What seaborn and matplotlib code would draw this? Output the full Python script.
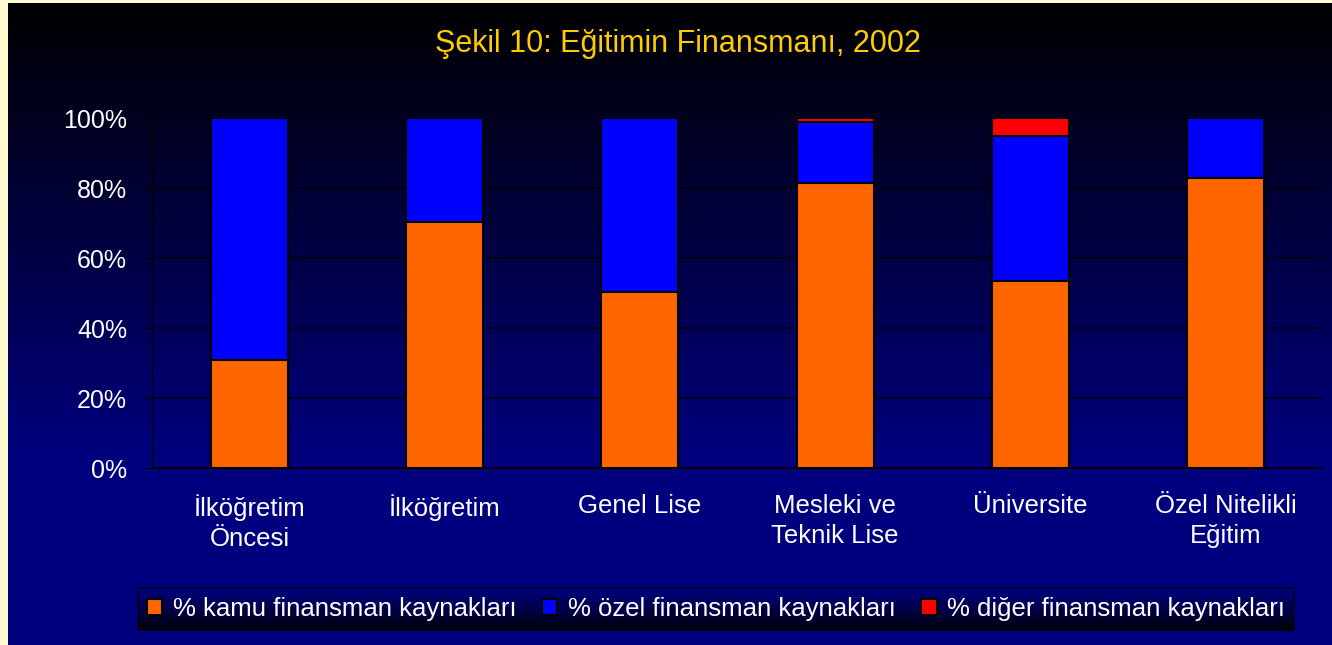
import numpy as np
import pandas as pd
import seaborn as sns
import matplotlib.pyplot as plt
from matplotlib.patches import Patch

# Veri (2002, yüzde)
categories = ['İlköğretim\nÖncesi', 'İlköğretim', 'Genel Lise',
              'Mesleki ve\nTeknik Lise', 'Üniversite', 'Özel Nitelikli\nEğitim']
kamu = [31.0, 70.3, 50.3, 81.5, 53.5, 82.9]
ozel = [69.0, 29.7, 49.7, 17.5, 41.5, 17.1]
diger = [0.0, 0.0, 0.0, 1.0, 5.0, 0.0]
series_names = ['% kamu finansman kaynakları', '% özel finansman kaynakları',
                '% diğer finansman kaynakları']
colors = ['#FF6600', '#0000FF', '#FF0000']

sns.set_style('white')
plt.rcParams['font.family'] = ['Liberation Sans', 'DejaVu Sans']

df = pd.DataFrame({'kategori': categories, 'kamu': kamu, 'ozel': ozel, 'diger': diger})
df['c1'] = df['kamu']
df['c2'] = df['kamu'] + df['ozel']
df['c3'] = df['c2'] + df['diger']

fig = plt.figure(figsize=(13.32, 6.45), dpi=100, facecolor='#FFFACD')

# arka plan gradyanı
bg = fig.add_axes([8 / 1332, 0, 1 - 8 / 1332, 1 - 3 / 645], zorder=-10)
yy = np.linspace(0, 1, 400)
grad = np.clip(yy / 0.72, 0, 1)
img = np.zeros((400, 1, 3))
img[:, 0, 2] = grad * 0.5
bg.imshow(img, aspect='auto', extent=[0, 1, 1, 0])
bg.axis('off')

ax = fig.add_axes([152 / 1332, 1 - 468 / 645, 1171 / 1332, 350 / 645])
ax.patch.set_alpha(0)

w = 0.395
for col, c in zip(['c3', 'c2', 'c1'], [colors[2], colors[1], colors[0]]):
    sns.barplot(data=df, x='kategori', y=col, color=c, width=w, ax=ax,
                edgecolor='black', linewidth=1.5, saturation=1, zorder=3)

ax.set_ylim(0, 100)
ax.set_xlim(-0.5, len(categories) - 0.5)
ax.set_yticks([0, 20, 40, 60, 80, 100])
ax.set_yticklabels([f'{v}%' for v in [0, 20, 40, 60, 80, 100]])
ax.yaxis.grid(True, color='black', linewidth=1.2, alpha=0.8)
ax.set_axisbelow(True)
ax.set_xlabel('')
ax.set_ylabel('')
for s in ['top', 'right']:
    ax.spines[s].set_visible(False)
for s in ['left', 'bottom']:
    ax.spines[s].set_color('black')
    ax.spines[s].set_linewidth(1)
ax.set_xticks(np.arange(-0.5, len(categories)), minor=True)
ax.tick_params(axis='x', which='major', length=0, pad=19, labelsize=18.5, labelcolor='white')
ax.tick_params(axis='x', which='minor', length=7, color='black', direction='out')
ax.tick_params(axis='y', length=7, color='black', direction='out', pad=11,
               labelsize=18, labelcolor='white', left=True)
for lab in ax.get_xticklabels():
    lab.set_linespacing(1.3)

fig.text(678 / 1332, 1 - 44 / 645, 'Şekil 10: Eğitimin Finansmanı, 2002',
         color='#FFCC00', fontsize=22, ha='center', va='center')

handles = [Patch(facecolor=c, edgecolor='black', linewidth=1.5) for c in colors]
leg = fig.legend(handles, series_names, loc='center', ncol=3,
                 bbox_to_anchor=(716 / 1332, 1 - 609 / 645), frameon=True,
                 fancybox=False, edgecolor='black', facecolor='none',
                 fontsize=18.5, labelcolor='white', handlelength=0.6,
                 handleheight=0.6, handletextpad=0.4, columnspacing=1.0,
                 borderpad=0.35)
leg.get_frame().set_linewidth(1.2)

# legend arka planı (lacivertten siyaha)
fig.canvas.draw()
bb = leg.get_window_extent().transformed(fig.transFigure.inverted())
lax = fig.add_axes([bb.x0, bb.y0, bb.width, bb.height], zorder=-5)
limg = np.zeros((100, 1, 3))
limg[:, 0, 2] = np.linspace(0.5, 0.0, 100) ** 0.8 * 0.5 / 0.5 ** 0.8
lax.imshow(limg, aspect='auto', extent=[0, 1, 1, 0])
lax.axis('off')

fig.savefig('out.png', dpi=100, facecolor=fig.get_facecolor())
